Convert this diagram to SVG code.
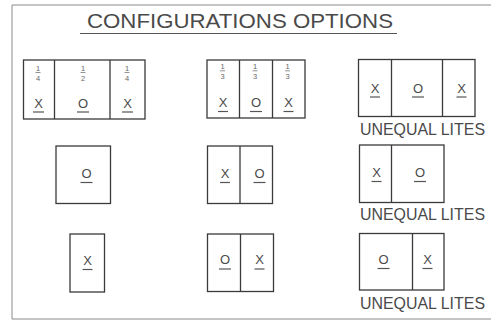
<svg xmlns="http://www.w3.org/2000/svg" width="491" height="322" viewBox="0 0 491 322">
<style>
.bg{fill:#fff}
.frame{fill:none;stroke:#8a8a8a;stroke-width:1}
.box{fill:#fff;stroke:#3a3a3a;stroke-width:1.3}
.div{stroke:#3a3a3a;stroke-width:1.3}
.ul{stroke:#555;stroke-width:1.2}
.fb{stroke:#666;stroke-width:0.7}
.t{font-family:"Liberation Sans",Arial,sans-serif;fill:#4a4a4a}
.title{font-size:21px}
.lt{font-size:13px;text-anchor:middle}
.fr{font-size:7.5px;text-anchor:middle;fill:#666}
.uq{font-size:16.5px}
</style>
<rect class="bg" x="0" y="0" width="491" height="322"/>
<g id="frame">
<path class="frame" d="M12,5 H491 M12,5 V319 M12,319 H491"/>
</g>
<g id="title">
<text class="t title" x="87" y="28" textLength="306" lengthAdjust="spacingAndGlyphs">CONFIGURATIONS OPTIONS</text>
<line class="ul" x1="80" y1="33.5" x2="397" y2="33.5" stroke-width="1"/>
</g>

<g id="panel-1">
<rect class="box" x="23.5" y="60" width="121.5" height="59"/>
<line class="div" x1="54.5" y1="60" x2="54.5" y2="119"/>
<line class="div" x1="110" y1="60" x2="110" y2="119"/>
<text class="t fr" x="38" y="70.5">1</text><line class="fb" x1="35.5" y1="72.5" x2="40.5" y2="72.5"/><text class="t fr" x="38" y="81">4</text>
<text class="t fr" x="83" y="70.5">1</text><line class="fb" x1="80.5" y1="72.5" x2="85.5" y2="72.5"/><text class="t fr" x="83" y="81">2</text>
<text class="t fr" x="127" y="70.5">1</text><line class="fb" x1="124.5" y1="72.5" x2="129.5" y2="72.5"/><text class="t fr" x="127" y="81">4</text>
<text class="t lt" x="38.5" y="108">X</text><line class="ul" x1="33" y1="112" x2="44" y2="112"/>
<text class="t lt" x="83" y="108">O</text><line class="ul" x1="77" y1="112" x2="89" y2="112"/>
<text class="t lt" x="127.5" y="108">X</text><line class="ul" x1="122" y1="112" x2="133" y2="112"/>
</g>

<g id="panel-2">
<rect class="box" x="207" y="60" width="98" height="58"/>
<line class="div" x1="239.5" y1="60" x2="239.5" y2="118"/>
<line class="div" x1="272.5" y1="60" x2="272.5" y2="118"/>
<text class="t fr" x="222.5" y="69">1</text><line class="fb" x1="220" y1="70.8" x2="225" y2="70.8"/><text class="t fr" x="222.5" y="79">3</text>
<text class="t fr" x="255" y="69">1</text><line class="fb" x1="252.5" y1="70.8" x2="257.5" y2="70.8"/><text class="t fr" x="255" y="79">3</text>
<text class="t fr" x="287.5" y="69">1</text><line class="fb" x1="285" y1="70.8" x2="290" y2="70.8"/><text class="t fr" x="287.5" y="79">3</text>
<text class="t lt" x="223" y="106.5">X</text><line class="ul" x1="218" y1="111.5" x2="228" y2="111.5"/>
<text class="t lt" x="256" y="106.5">O</text><line class="ul" x1="250" y1="111.5" x2="262" y2="111.5"/>
<text class="t lt" x="288.5" y="106.5">X</text><line class="ul" x1="283.5" y1="111.5" x2="293.5" y2="111.5"/>
</g>

<g id="panel-3">
<rect class="box" x="358.5" y="59.5" width="116.5" height="57"/>
<line class="div" x1="391.5" y1="59.5" x2="391.5" y2="116.5"/>
<line class="div" x1="442.5" y1="59.5" x2="442.5" y2="116.5"/>
<text class="t lt" x="375" y="93">X</text><line class="ul" x1="370" y1="97" x2="380" y2="97"/>
<text class="t lt" x="418" y="93">O</text><line class="ul" x1="412" y1="97" x2="424" y2="97"/>
<text class="t lt" x="461.5" y="93">X</text><line class="ul" x1="456.5" y1="97" x2="466.5" y2="97"/>
<text class="t uq" x="360" y="135" textLength="125" lengthAdjust="spacingAndGlyphs">UNEQUAL LITES</text>
</g>

<g id="panel-4">
<rect class="box" x="56" y="146" width="54.5" height="57.5"/>
<text class="t lt" x="86.5" y="178">O</text><line class="ul" x1="80.5" y1="182.5" x2="92.5" y2="182.5"/>
</g>

<g id="panel-5">
<rect class="box" x="207.5" y="146" width="65" height="57.5"/>
<line class="div" x1="240" y1="146" x2="240" y2="203.5"/>
<text class="t lt" x="225" y="177.5">X</text><line class="ul" x1="220" y1="182.5" x2="230" y2="182.5"/>
<text class="t lt" x="259.5" y="177.5">O</text><line class="ul" x1="253.5" y1="182.5" x2="265.5" y2="182.5"/>
</g>

<g id="panel-6">
<rect class="box" x="359.5" y="145" width="84.5" height="57.5"/>
<line class="div" x1="391.5" y1="145" x2="391.5" y2="202.5"/>
<text class="t lt" x="376.5" y="177">X</text><line class="ul" x1="371.5" y1="181.5" x2="381.5" y2="181.5"/>
<text class="t lt" x="420" y="177">O</text><line class="ul" x1="414" y1="181.5" x2="426" y2="181.5"/>
<text class="t uq" x="360" y="219.5" textLength="125" lengthAdjust="spacingAndGlyphs">UNEQUAL LITES</text>
</g>

<g id="panel-7">
<rect class="box" x="70" y="234" width="34.5" height="58"/>
<text class="t lt" x="87.5" y="265">X</text><line class="ul" x1="82.5" y1="269.5" x2="92.5" y2="269.5"/>
</g>

<g id="panel-8">
<rect class="box" x="207.5" y="234" width="66" height="57.5"/>
<line class="div" x1="240.5" y1="234" x2="240.5" y2="291.5"/>
<text class="t lt" x="225" y="263.5">O</text><line class="ul" x1="219" y1="269" x2="231" y2="269"/>
<text class="t lt" x="259.5" y="263.5">X</text><line class="ul" x1="254.5" y1="269" x2="264.5" y2="269"/>
</g>

<g id="panel-9">
<rect class="box" x="359.5" y="233.5" width="84.5" height="56.5"/>
<line class="div" x1="412.5" y1="233.5" x2="412.5" y2="290"/>
<text class="t lt" x="383.5" y="263.5">O</text><line class="ul" x1="377.5" y1="268.5" x2="389.5" y2="268.5"/>
<text class="t lt" x="427.5" y="263.5">X</text><line class="ul" x1="422.5" y1="268.5" x2="432.5" y2="268.5"/>
<text class="t uq" x="360" y="309" textLength="125" lengthAdjust="spacingAndGlyphs">UNEQUAL LITES</text>
</g>
</svg>
